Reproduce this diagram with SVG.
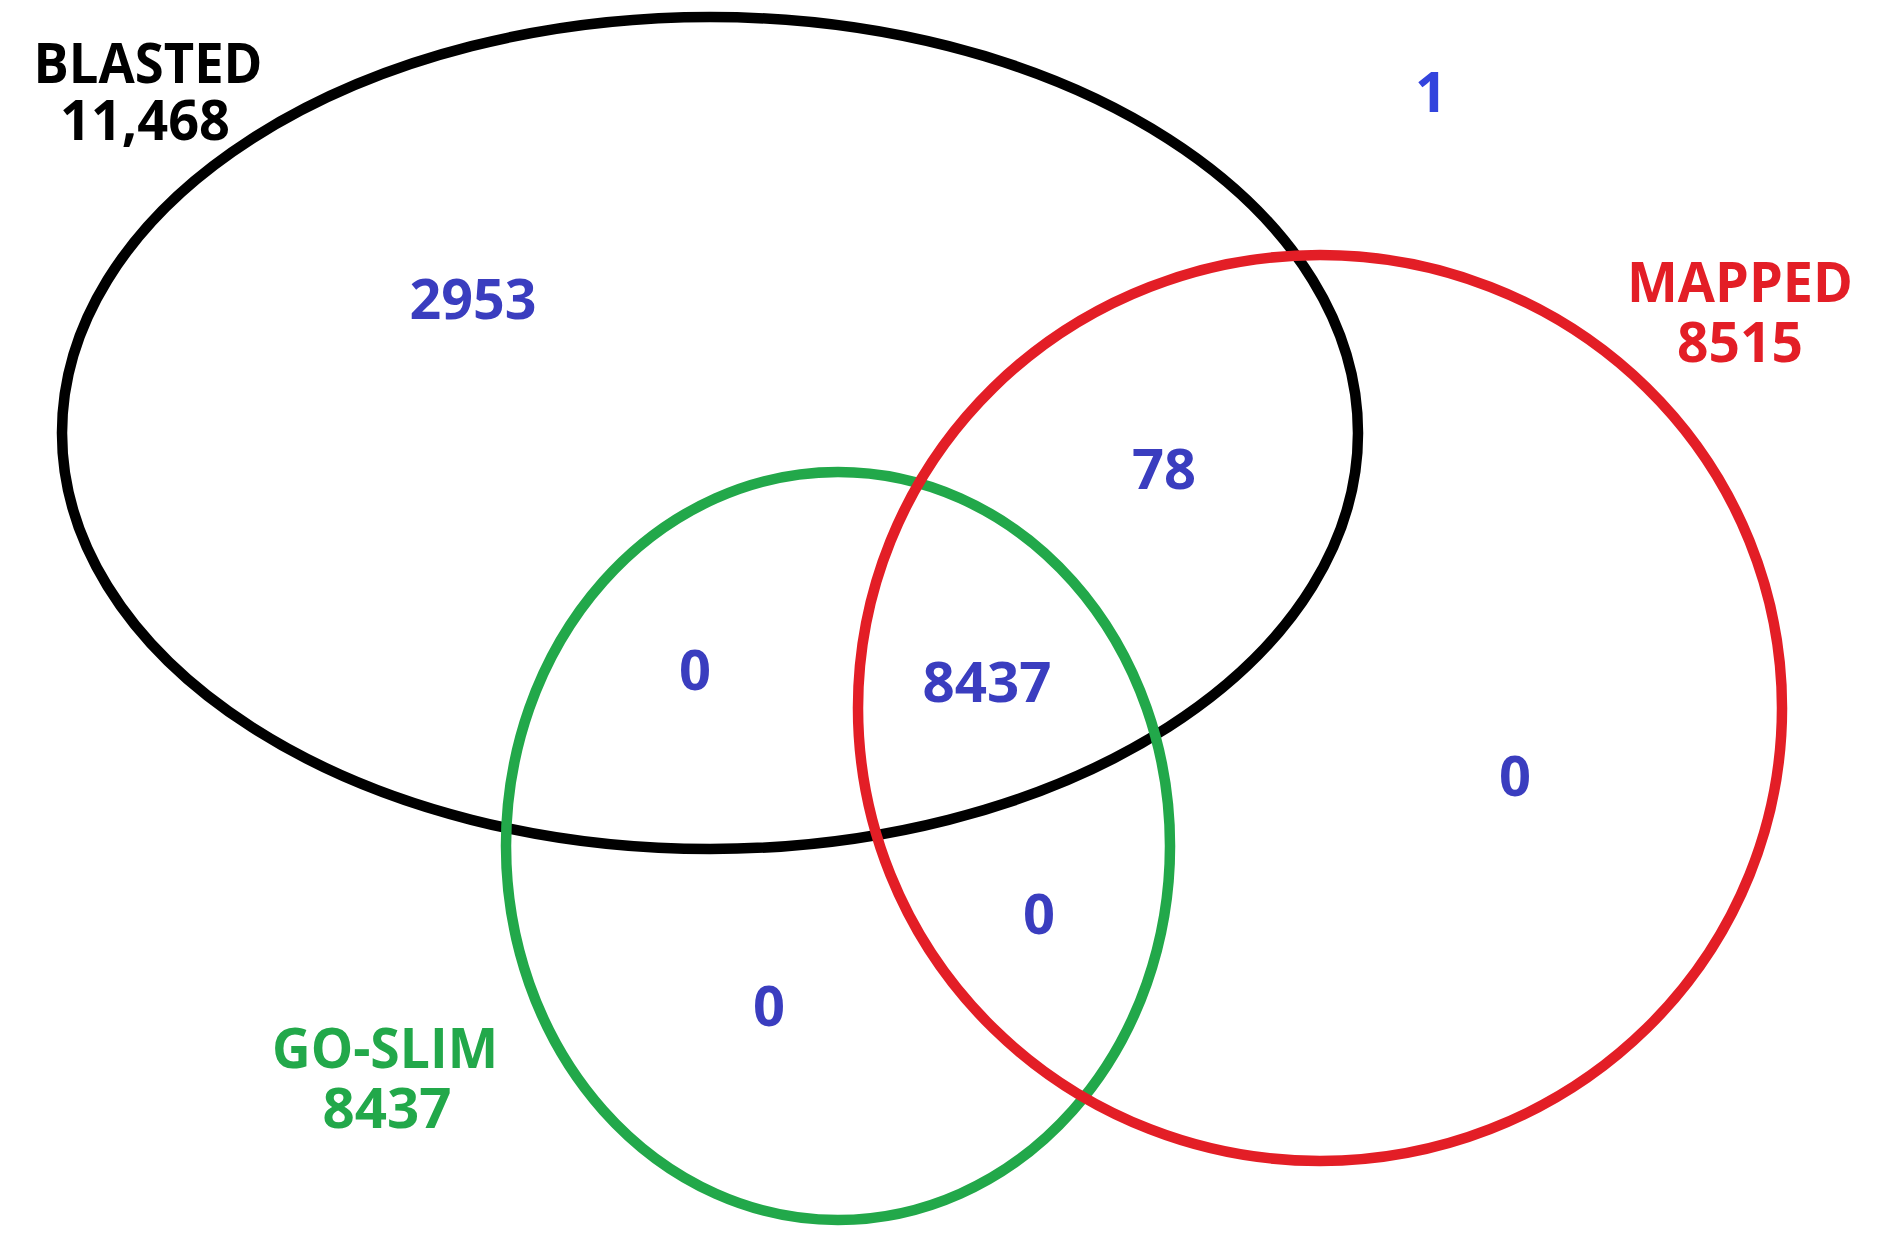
<svg xmlns="http://www.w3.org/2000/svg" width="1886" height="1253" viewBox="0 0 1886 1253">
<style>
text{font-family:"Open Sans","Noto Sans","Liberation Sans",sans-serif;font-weight:bold;font-size:56px;text-anchor:middle}
.ring{fill:none;stroke-width:10.5}
.n{fill:#3a3dbf}
</style>
<rect width="1886" height="1253" fill="#ffffff"/>
<g id="blasted">
<ellipse class="ring" cx="710" cy="433" rx="648" ry="416" stroke="#000000"/>
<text x="148" y="83" fill="#000000" textLength="229" lengthAdjust="spacingAndGlyphs">BLASTED</text>
<text x="145" y="140" fill="#000000" textLength="170" lengthAdjust="spacingAndGlyphs">11,468</text>
</g>
<g id="goslim">
<ellipse class="ring" cx="838" cy="846" rx="332" ry="374" stroke="#22a84a"/>
<text x="385" y="1068" fill="#22a84a" textLength="226" lengthAdjust="spacingAndGlyphs">GO-SLIM</text>
<text x="387" y="1128" fill="#22a84a" textLength="129" lengthAdjust="spacingAndGlyphs">8437</text>
</g>
<g id="mapped">
<ellipse class="ring" cx="1320" cy="708" rx="462" ry="453" stroke="#e31e26"/>
<text x="1740" y="302" fill="#e31e26" textLength="226" lengthAdjust="spacingAndGlyphs">MAPPED</text>
<text x="1740" y="362" fill="#e31e26" textLength="126" lengthAdjust="spacingAndGlyphs">8515</text>
</g>
<g id="counts">
<text x="1431" y="112" style="fill:#3344dd">1</text>
<text class="n" x="473" y="319" textLength="127" lengthAdjust="spacingAndGlyphs">2953</text>
<text class="n" x="1164" y="489">78</text>
<text class="n" x="695" y="690">0</text>
<text class="n" x="987" y="702" textLength="129" lengthAdjust="spacingAndGlyphs">8437</text>
<text class="n" x="1515" y="796">0</text>
<text class="n" x="1039" y="934">0</text>
<text class="n" x="769" y="1026">0</text>
</g>
<g id="connectors"></g>
</svg>
